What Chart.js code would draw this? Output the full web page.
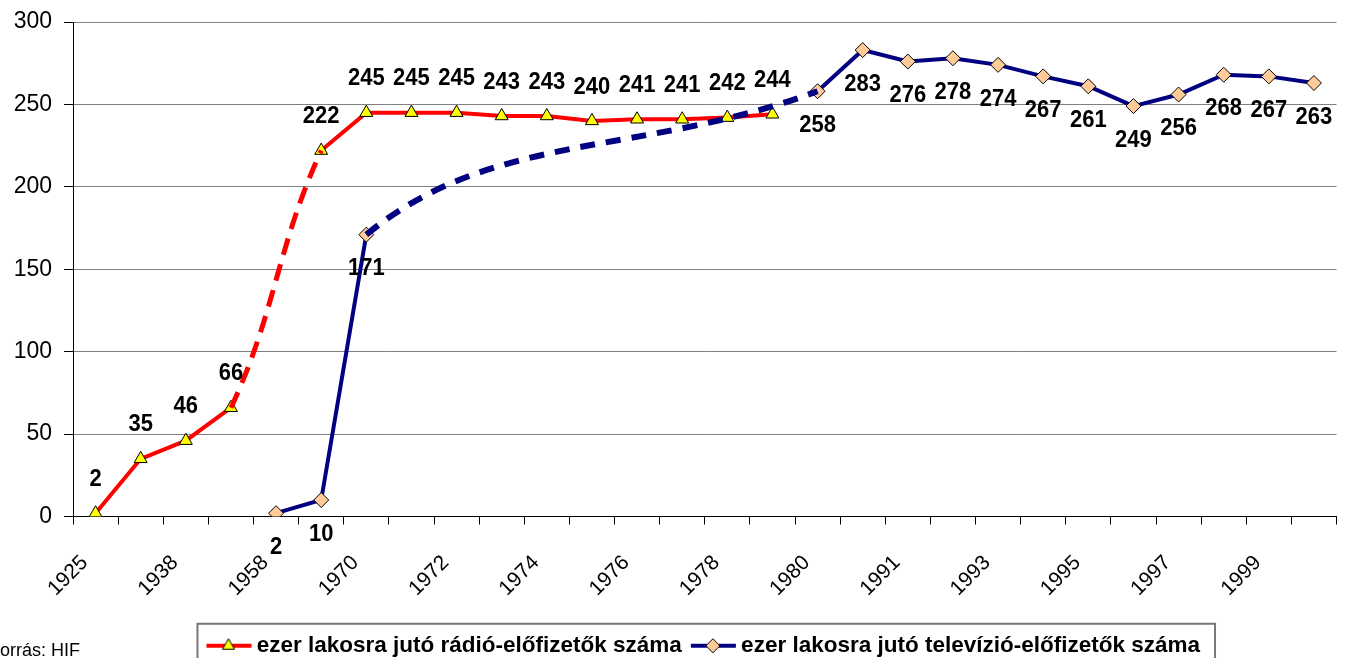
<!DOCTYPE html>
<html><head><meta charset="utf-8">
<script src="https://cdn.jsdelivr.net/npm/chart.js@4.4.1/dist/chart.umd.min.js"></script>
<style>
html,body{margin:0;padding:0;background:#fff;overflow:hidden;}
#wrap{position:relative;width:1345px;height:667px;}
#note{position:absolute;left:-11px;top:640px;font:18px 'Liberation Sans',Arial,sans-serif;color:#000;white-space:nowrap;}
</style></head><body>
<div id="wrap"><canvas id="c"></canvas><div id="note">Forrás: HIF</div></div>
<script>
// ---- data ----
const categories = ['1925','1930','1938','1950','1958','1960','1970','1971','1972','1973','1974','1975','1976','1977','1978','1979','1980','1990','1991','1992','1993','1994','1995','1996','1997','1998','1999','2000'];
const radioValues = [2,35,46,66,null,222,245,245,245,243,243,240,241,241,242,244,null,null,null,null,null,null,null,null,null,null,null,null];
const tvValues = [null,null,null,null,2,10,171,null,null,null,null,null,null,null,null,null,258,283,276,278,274,267,261,249,256,268,267,263];
const seriesNames = ['ezer lakosra jutó rádió-előfizetők száma','ezer lakosra jutó televízió-előfizetők száma'];
const yTickValues = [0,50,100,150,200,250,300];
const labelEvery = 2;

const FONT = "'Liberation Sans', Arial, sans-serif";

// keep only the points around each gap, so the library can draw a bent dashed connector across it
function bridgeData(values) {
  const out = values.map(() => null);
  const idx = [];
  values.forEach((v, i) => { if (v !== null) idx.push(i); });
  for (let k = 0; k + 1 < idx.length; k++) {
    if (idx[k + 1] - idx[k] > 1) {
      [k - 1, k, k + 1, k + 2].forEach(j => { if (j >= 0 && j < idx.length) out[idx[j]] = values[idx[j]]; });
    }
  }
  return out;
}

function makeIcon(color, marker) {
  const c = document.createElement('canvas');
  c.width = 50; c.height = 18;
  const g = c.getContext('2d');
  g.strokeStyle = color; g.lineWidth = 4;
  g.beginPath(); g.moveTo(4, 9); g.lineTo(49, 9); g.stroke();
  g.lineWidth = 1; g.strokeStyle = '#000';
  const cx = 26, cy = 9, r = 7;
  g.beginPath();
  if (marker === 'triangle') {
    g.fillStyle = '#FFFF00';
    g.moveTo(cx, cy - r); g.lineTo(cx + r * 0.866, cy + r / 2); g.lineTo(cx - r * 0.866, cy + r / 2);
  } else {
    g.fillStyle = '#FFCC99';
    g.moveTo(cx - r, cy); g.lineTo(cx, cy - r); g.lineTo(cx + r, cy); g.lineTo(cx, cy + r);
  }
  g.closePath(); g.fill(); g.stroke();
  return c;
}
const icons = [makeIcon('#FF0000', 'triangle'), makeIcon('#000080', 'diamond')];

const inGap = ctx => ctx.p0.skip || ctx.p1.skip;
function bridgeSet(values, color, dash, width, order) {
  return {
    label: 'bridge',
    data: bridgeData(values),
    borderColor: 'rgba(0,0,0,0)',
    borderWidth: width,
    pointRadius: 0,
    spanGaps: true,
    tension: 0.4,
    segment: {
      borderColor: ctx => (inGap(ctx) ? color : undefined),
      borderDash: ctx => (inGap(ctx) ? dash : undefined)
    },
    order: order
  };
}

const valueLabels = {
  id: 'valueLabels',
  afterDatasetsDraw(chart) {
    const ctx = chart.ctx;
    ctx.save();
    ctx.font = 'bold 22px ' + FONT;
    ctx.fillStyle = '#000';
    ctx.textAlign = 'center';
    ctx.textBaseline = 'middle';
    chart.data.datasets.forEach((ds, i) => {
      if (ds.labelShift === undefined) return;
      const meta = chart.getDatasetMeta(i);
      meta.data.forEach((pt, j) => {
        const v = ds.data[j];
        if (v === null || v === undefined) return;
        ctx.save();
        ctx.translate(pt.x, pt.y + ds.labelShift);
        ctx.scale(1, 1.1);
        ctx.fillText(String(v), 0, 0);
        ctx.restore();
      });
    });
    ctx.restore();
  }
};

const legendFrame = {
  id: 'legendFrame',
  afterDraw(chart) {
    const hb = chart.legend.legendHitBoxes;
    if (!hb || !hb.length) return;
    const ctx = chart.ctx;
    const l = hb[0].left - 12;
    const r = hb[hb.length - 1].left + hb[hb.length - 1].width + 15;
    const t = hb[0].top + hb[0].height / 2 - 22;
    ctx.save();
    ctx.strokeStyle = '#777';
    ctx.lineWidth = 2;
    ctx.strokeRect(l, t, r - l, chart.height + 10 - t);
    ctx.restore();
  }
};

new Chart(document.getElementById('c'), {
  type: 'line',
  data: {
    labels: categories,
    datasets: [
      {
        label: seriesNames[0],
        data: radioValues,
        borderColor: '#FF0000',
        borderWidth: 4,
        pointStyle: 'triangle',
        pointRadius: 7.5,
        pointBackgroundColor: '#FFFF00',
        pointBorderColor: '#000',
        pointBorderWidth: 1,
        spanGaps: false,
        tension: 0,
        labelShift: -34,
        order: 2
      },
      {
        label: seriesNames[1],
        data: tvValues,
        borderColor: '#000080',
        borderWidth: 4,
        pointStyle: 'rectRot',
        pointRadius: 7.5,
        pointBackgroundColor: '#FFCC99',
        pointBorderColor: '#000',
        pointBorderWidth: 1,
        spanGaps: false,
        tension: 0,
        labelShift: 34,
        order: 3
      },
      bridgeSet(radioValues, '#FF0000', [17, 10], 5, 1),
      bridgeSet(tvValues, '#000080', [15, 11], 6, 0)
    ]
  },
  options: {
    responsive: true,
    maintainAspectRatio: false,
    animation: false,
    events: [],
    layout: { padding: { top: 22, right: 4, left: 0, bottom: 0 } },
    scales: {
      x: {
        offset: true,
        grid: { display: true, offset: true, drawOnChartArea: false, drawTicks: true, tickLength: 8, tickColor: '#000', color: '#000' },
        border: { display: true, color: '#000', width: 1 },
        ticks: {
          autoSkip: false, minRotation: 45, maxRotation: 45, padding: 26, labelOffset: -11,
          color: '#000', font: { family: FONT, size: 21 },
          callback: (v, i) => (i % labelEvery === 0 ? categories[i] : '')
        },
        afterFit: s => { s.height = 106; s.paddingLeft = 0; s.paddingRight = 0; }
      },
      y: {
        min: 0, max: 300,
        afterBuildTicks: s => { s.ticks = yTickValues.map(v => ({ value: v })); },
        grid: { color: '#808080', lineWidth: 1, drawTicks: true, tickLength: 9, tickColor: '#000' },
        border: { display: true, color: '#000', width: 1 },
        ticks: { color: '#000', padding: 12, font: { family: FONT, size: 23 } },
        afterFit: s => { s.width = 73; s.paddingTop = 0; s.paddingBottom = 0; }
      }
    },
    plugins: {
      legend: {
        position: 'bottom',
        fullSize: false,
        labels: {
          usePointStyle: true,
          pointStyleWidth: 36,
          padding: 12,
          color: '#000',
          font: { family: FONT, size: 22.5, weight: 'bold' },
          generateLabels: chart => chart.data.datasets.slice(0, 2).map((ds, i) => ({
            text: ds.label, pointStyle: icons[i], fillStyle: 'transparent', strokeStyle: 'transparent',
            lineWidth: 0, hidden: false, datasetIndex: i, fontColor: '#000'
          }))
        }
      },
      tooltip: { enabled: false }
    }
  },
  plugins: [valueLabels, legendFrame]
});
</script>
</body></html>
